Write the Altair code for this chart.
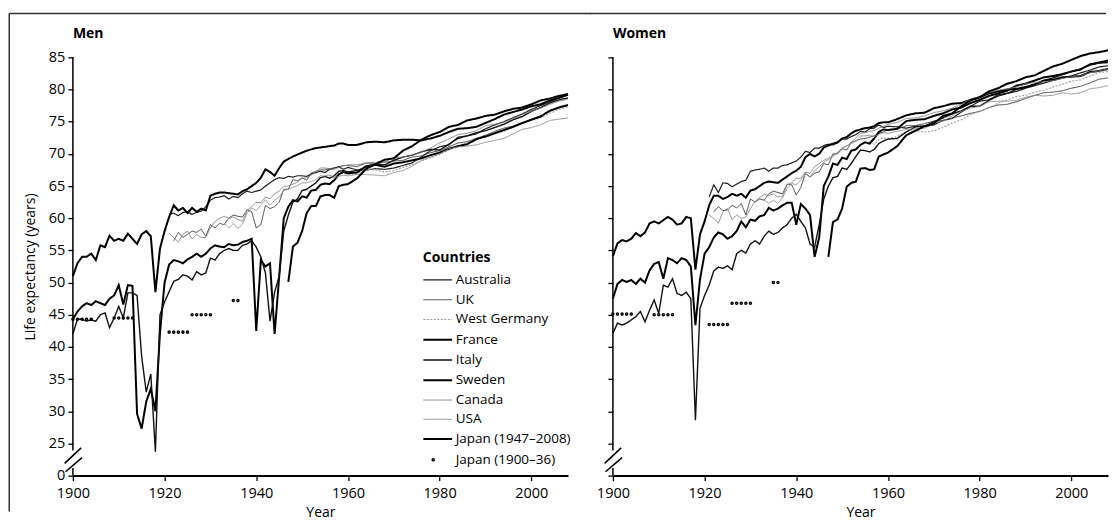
import altair as alt
import pandas as pd

# ---------------- categories & styles ----------------
COUNTRIES = ["Australia", "UK", "West Germany", "France", "Italy", "Sweden",
             "Canada", "USA", "Japan (1947–2008)", "Japan (1900–36)"]
LINE_COLORS = ["#1e1e1e", "#303030", "#9a9a9a", "#000000", "#111111", "#000000",
               "#7c7c7c", "#8a8a8a", "#000000", "#000000"]
LINE_WIDTHS = [1.2, 0.9, 1.1, 2.0, 1.4, 2.0, 0.9, 0.9, 2.0, 2.1]
LINE_DASHES = [[1, 0], [1, 0], [2, 1.5], [1, 0], [1, 0], [1, 0], [1, 0], [1, 0], [1, 0], [1, 0]]
LINE_PATH = "M-1.1,0L2.1,0"
DOT_PATH = "M-0.08,0A0.08,0.08,0,1,1,0.08,0A0.08,0.08,0,1,1,-0.08,0Z"
LEGEND_SHAPES = [LINE_PATH, LINE_PATH, LINE_PATH, LINE_PATH, LINE_PATH,
                 LINE_PATH, LINE_PATH, LINE_PATH, LINE_PATH, DOT_PATH]

X_TICKS = [1900, 1920, 1940, 1960, 1980, 2000]
Y_TICKS = [20, 25, 30, 35, 40, 45, 50, 55, 60, 65, 70, 75, 80, 85]  # 20 is shown as "0" (broken axis)

# years: annual 1900-1960, every second year 1962-2008
YEARS_ANNUAL = list(range(1900, 1961))
YEARS_BIENNIAL = list(range(1962, 2009, 2))
ALL_YEARS = YEARS_ANNUAL + YEARS_BIENNIAL

# ---------------- MEN ----------------
M_SWE = [51.0, 53.0, 54.0, 54.0, 54.5, 53.5, 55.8, 55.5, 57.3, 56.5,
         56.8, 56.5, 57.6, 56.8, 56.0, 57.5, 58.0, 57.2, 48.5, 55.3,
         58.0, 60.2, 62.0, 61.2, 61.6, 60.8, 61.6, 61.0, 61.5, 61.2,
         63.5, 63.8, 64.0, 64.0, 63.9, 63.8, 63.7, 64.2, 64.5, 65.0,
         65.5, 66.3, 67.6, 67.2, 66.6, 67.8, 68.8, 69.2, 69.6, 69.9,
         70.2, 70.5, 70.7, 70.9, 71.0, 71.1, 71.2, 71.3, 71.6, 71.6, 71.4,
         71.4, 71.8, 71.9, 71.8, 72.1, 72.2, 72.2, 72.1, 72.4, 72.8, 73.4, 73.9,
         74.0, 74.2, 74.8, 75.4, 76.1, 76.5, 76.9, 77.4, 77.7, 78.3, 78.7, 79.2]
M_FRA = [44.3, 45.5, 46.3, 46.8, 46.5, 47.1, 46.8, 46.5, 47.5, 48.0,
         49.6, 46.6, 49.6, 49.5, 29.6, 27.3, 31.5, 33.5, 30.0, 42.2,
         50.0, 52.8, 53.5, 53.3, 53.0, 53.6, 54.0, 54.5, 54.0, 54.5,
         55.3, 55.8, 55.6, 55.5, 56.0, 55.8, 55.9, 56.3, 56.5, 56.8,
         42.5, 53.5, 52.5, 53.0, 42.0, 50.9, 60.0, 61.8, 62.8, 62.6,
         63.4, 63.2, 64.3, 64.4, 65.2, 65.4, 65.3, 65.9, 66.8, 67.2, 67.0,
         67.1, 68.1, 68.3, 68.0, 68.5, 68.7, 69.0, 69.3, 69.8, 70.2, 70.8, 71.2,
         71.5, 72.3, 72.7, 73.2, 73.7, 74.2, 74.8, 75.3, 75.8, 76.7, 77.2, 77.6]
M_ITA = [42.0, 44.3, 44.3, 44.0, 44.2, 44.0, 45.0, 45.3, 43.0, 44.5,
         46.3, 44.5, 48.4, 48.4, 48.0, 38.5, 33.0, 35.8, 23.7, 45.0,
         47.0, 48.6, 50.2, 50.5, 51.2, 51.0, 50.4, 51.7, 51.2, 51.5,
         53.8, 53.5, 54.5, 55.0, 55.3, 55.0, 55.0, 55.8, 56.0, 56.5,
         55.5, 54.0, 51.5, 44.0, 48.5, 51.0, 58.0, 60.5, 62.5, 63.0,
         64.3, 64.5, 65.0, 65.5, 66.3, 66.5, 66.2, 66.6, 67.3, 67.4, 67.2,
         67.4, 68.0, 68.4, 68.3, 69.0, 69.5, 69.8, 70.3, 70.7, 70.6, 71.5, 72.4,
         72.8, 73.3, 73.6, 74.1, 74.6, 75.3, 75.8, 76.6, 77.2, 77.9, 78.4, 78.7]
M_AUS = [60.6, 60.8, 60.4, 60.9, 61.0, 60.6, 60.9, 61.1, 61.8,
         62.8, 63.2, 63.3, 63.5, 63.0, 63.4, 63.2, 63.8, 64.2, 64.0,
         64.2, 64.4, 65.0, 65.5, 66.0, 66.3, 66.2, 66.5, 66.4, 66.6,
         66.6, 66.5, 66.9, 67.1, 67.3, 67.1, 67.6, 67.8, 68.0, 67.6, 67.9,
         67.5, 67.5, 67.7, 67.6, 67.8, 68.2, 68.6, 69.5, 70.5, 71.1, 71.4, 72.6,
         72.8, 73.1, 73.9, 74.5, 75.0, 75.6, 76.2, 76.9, 77.5, 78.1, 78.7, 79.2]
M_GBR = [56.5, 57.8, 57.0, 57.5, 58.0, 57.8, 58.3, 57.2,
         59.0, 58.5, 59.2, 59.0, 60.0, 60.5, 60.3, 60.2, 61.3, 61.0,
         58.5, 59.0, 62.0, 61.5, 61.8, 62.5, 64.5, 64.5, 66.0, 65.8,
         66.3, 65.9, 67.0, 67.3, 67.5, 67.5, 67.7, 67.8, 68.0, 68.2, 68.2,
         68.0, 68.6, 68.5, 68.7, 68.9, 69.0, 69.5, 69.7, 70.2, 70.5, 71.1, 71.7,
         71.9, 72.4, 72.9, 73.5, 74.0, 74.3, 74.8, 75.4, 75.9, 76.6, 77.2, 77.6]
M_CAN = [57.6, 57.0, 56.3, 57.5, 58.0, 56.8, 57.5, 57.0, 57.0,
         58.5, 59.5, 60.0, 60.3, 60.0, 60.2, 59.8, 59.5, 61.2, 61.8,
         62.5, 62.4, 63.3, 63.0, 63.8, 64.2, 65.0, 65.0, 65.3, 65.6,
         66.2, 66.3, 66.7, 67.2, 67.8, 67.8, 67.7, 67.6, 67.9, 68.1, 68.3,
         68.3, 68.6, 68.7, 68.8, 69.4, 69.5, 69.8, 70.3, 70.9, 71.7, 72.3, 73.0,
         73.2, 73.6, 74.4, 74.6, 74.9, 75.5, 76.1, 76.6, 77.1, 77.7, 78.2, 78.5]
M_USA = [59.2, 58.5, 59.2, 58.4, 59.1, 60.8, 61.6,
         61.2, 62.0, 62.9, 62.0, 62.8, 63.3, 64.3, 64.5, 64.8, 65.1,
         65.5, 65.5, 65.7, 66.0, 66.6, 66.6, 66.7, 66.3, 66.5, 66.7, 66.6,
         66.8, 66.8, 66.7, 66.6, 67.1, 67.4, 68.1, 69.0, 69.5, 70.0, 70.8, 71.1,
         71.2, 71.4, 71.8, 72.1, 72.4, 73.1, 73.8, 74.1, 74.5, 75.2, 75.4, 75.6]
M_DEW = [66.7, 66.3, 66.9, 67.0, 66.8,
         66.9, 67.6, 67.5, 67.2, 67.4, 67.9, 68.3, 68.9, 69.4, 69.9, 70.6, 71.3,
         71.8, 72.4, 72.6, 73.2, 73.5, 74.1, 74.7, 75.2, 75.6, 76.3, 76.9, 77.3]
M_JPN = [50.1, 55.6, 56.2,
         58.0, 60.8, 61.9, 61.9, 63.4, 63.6, 63.6, 63.2, 65.0, 65.2, 65.3,
         66.2, 67.7, 68.4, 69.1, 69.3, 70.5, 71.2, 72.2, 72.9, 73.4, 74.2, 74.5,
         75.2, 75.5, 75.9, 76.1, 76.6, 77.0, 77.2, 77.7, 78.3, 78.6, 79.0, 79.3]

# ---------------- WOMEN ----------------
W_SWE = [54.1, 56.1, 56.6, 56.4, 56.8, 57.7, 57.2, 57.8, 59.2, 59.5,
         59.2, 59.7, 60.2, 59.8, 59.0, 59.2, 60.2, 60.0, 52.0, 57.5,
         59.5, 62.0, 63.5, 63.5, 63.0, 63.3, 63.8, 63.5, 63.8, 63.2,
         64.3, 64.5, 65.0, 65.5, 65.7, 65.6, 65.5, 66.0, 66.5, 67.0,
         67.4, 68.0, 69.5, 70.0, 69.6, 70.0, 71.0, 71.3, 71.6, 71.8,
         72.4, 72.6, 73.2, 73.6, 73.8, 74.0, 74.1, 74.3, 74.8, 74.9, 74.9,
         75.4, 76.0, 76.3, 76.4, 77.1, 77.4, 77.8, 77.9, 78.4, 78.8, 79.4, 79.7,
         80.0, 80.1, 80.4, 80.8, 81.4, 81.5, 81.9, 82.0, 82.1, 82.7, 82.9, 83.2]
W_FRA = [47.5, 49.8, 50.4, 50.1, 50.4, 49.8, 50.6, 50.0, 51.9, 52.9,
         53.2, 50.6, 53.8, 53.5, 53.0, 53.8, 53.5, 52.5, 43.4, 50.5,
         54.5, 55.5, 57.0, 57.8, 57.5, 56.8, 57.2, 58.0, 59.5, 58.6,
         59.8, 59.6, 60.3, 60.5, 61.6, 61.2, 61.5, 62.0, 62.4, 62.4,
         59.0, 62.2, 61.5, 60.5, 54.0, 57.0, 65.0, 66.5, 68.5, 68.3,
         69.4, 69.2, 70.5, 70.7, 71.4, 71.8, 71.6, 72.4, 73.4, 73.8, 73.7,
         73.9, 75.1, 75.3, 75.4, 75.9, 76.3, 76.9, 77.2, 77.9, 78.4, 79.0, 79.4,
         79.8, 80.6, 80.9, 81.4, 81.9, 82.1, 82.4, 82.8, 83.1, 83.9, 84.2, 84.5]
W_ITA = [42.1, 43.7, 43.4, 43.7, 44.2, 44.7, 45.5, 43.9, 45.7, 47.3,
         45.2, 49.6, 49.3, 50.6, 48.3, 48.0, 48.5, 47.5, 28.6, 46.0,
         48.0, 49.6, 51.8, 52.4, 52.2, 52.6, 52.0, 54.5, 55.0, 54.6,
         56.0, 56.5, 56.0, 57.2, 58.0, 57.5, 57.8, 58.5, 59.0, 60.0,
         60.6, 59.5, 58.5, 56.0, 55.5, 59.0, 63.0, 65.0, 66.3, 66.5,
         67.8, 67.6, 68.5, 69.6, 70.6, 70.5, 70.3, 70.7, 71.6, 72.0, 72.3,
         72.4, 73.4, 74.2, 74.3, 75.0, 75.6, 76.2, 76.7, 77.4, 77.4, 78.3, 79.0,
         79.4, 80.0, 80.3, 80.8, 81.4, 81.8, 82.3, 82.8, 83.2, 83.8, 84.1, 84.2]
W_AUS = [63.3, 65.2, 64.0, 65.5, 65.4, 64.9, 65.3, 65.7, 65.9,
         67.3, 67.5, 67.6, 67.8, 67.3, 67.8, 67.8, 68.2, 68.3, 68.6,
         68.9, 69.5, 70.4, 70.2, 70.9, 70.9, 71.3, 71.5, 71.4, 71.7,
         72.3, 72.3, 72.7, 73.0, 73.5, 73.4, 73.9, 74.0, 74.5, 74.1, 74.3,
         74.2, 74.0, 74.3, 74.3, 74.5, 75.2, 75.5, 76.5, 77.4, 78.2, 78.4, 79.2,
         79.4, 79.7, 80.2, 80.6, 81.0, 81.4, 81.8, 82.1, 82.6, 83.0, 83.5, 83.7]
W_GBR = [61.0, 61.8, 61.2, 61.3, 62.0, 61.6, 62.3, 60.5,
         63.0, 62.5, 63.0, 62.8, 63.8, 64.2, 64.0, 63.8, 65.3, 65.2,
         63.6, 64.8, 67.0, 66.4, 67.0, 67.2, 68.5, 68.3, 70.0, 70.0,
         70.8, 70.6, 71.8, 72.0, 72.3, 72.4, 72.6, 72.8, 73.2, 73.4, 73.8,
         73.8, 74.4, 74.4, 74.7, 75.1, 75.2, 75.6, 75.9, 76.3, 76.6, 77.2, 77.6,
         77.7, 78.1, 78.6, 79.1, 79.5, 79.6, 79.8, 80.2, 80.5, 81.0, 81.6, 81.8]
W_CAN = [60.5, 60.0, 59.2, 61.0, 61.5, 59.8, 60.5, 60.0, 60.2,
         61.5, 62.6, 63.2, 63.7, 63.5, 63.8, 63.3, 63.4, 65.2, 65.5,
         66.2, 66.2, 67.2, 67.0, 68.0, 68.5, 69.0, 69.3, 69.8, 70.2,
         70.8, 71.2, 71.8, 72.5, 73.2, 73.3, 73.5, 73.6, 74.0, 74.3, 74.6,
         74.9, 75.5, 75.6, 75.9, 76.4, 76.7, 77.1, 77.7, 78.5, 78.9, 79.5, 79.9,
         80.1, 80.4, 80.9, 81.1, 81.2, 81.4, 81.7, 82.0, 82.1, 82.6, 82.9, 83.2]
W_USA = [62.8, 62.3, 62.8, 62.3, 63.2, 64.6, 65.4,
         65.2, 65.9, 66.9, 66.4, 67.4, 68.0, 68.7, 69.1, 69.6, 70.2,
         71.0, 71.3, 71.6, 72.0, 72.8, 72.8, 72.9, 72.7, 73.0, 73.3, 73.2,
         73.5, 73.8, 73.9, 74.0, 74.7, 75.1, 75.9, 76.6, 77.1, 77.4, 78.1, 78.2,
         78.2, 78.3, 78.8, 79.1, 79.0, 79.1, 79.5, 79.3, 79.5, 80.1, 80.3, 80.6]
W_DEW = [71.9, 71.5, 72.2, 72.5, 72.4,
         72.7, 73.5, 73.6, 73.4, 73.6, 74.1, 74.8, 75.3, 76.1, 76.6, 77.1, 77.9,
         78.4, 78.9, 79.1, 79.6, 79.9, 80.4, 80.8, 81.3, 81.5, 82.1, 82.6, 82.8]
W_JPN = [54.0, 59.4, 59.8,
         61.5, 64.9, 65.5, 65.7, 67.7, 67.8, 67.5, 67.6, 69.6, 69.9, 70.2,
         71.2, 72.9, 73.6, 74.3, 74.7, 75.9, 76.3, 77.4, 78.3, 78.8, 79.7, 80.2,
         80.9, 81.3, 81.9, 82.2, 82.9, 83.6, 84.0, 84.6, 85.2, 85.6, 85.8, 86.1]

# Japan 1900-36 (period life tables, one dot per year of each table)
JPN_OLD_YEARS = [1900, 1901, 1902, 1903, 1904, 1909, 1910, 1911, 1912, 1913,
                 1921, 1922, 1923, 1924, 1925, 1926, 1927, 1928, 1929, 1930, 1935, 1936]
M_JPN_OLD = [44.3, 44.3, 44.3, 44.3, 44.3, 44.5, 44.5, 44.5, 44.5, 44.5,
             42.3, 42.3, 42.3, 42.3, 42.3, 45.0, 45.0, 45.0, 45.0, 45.0, 47.2, 47.2]
W_JPN_OLD = [45.1, 45.1, 45.1, 45.1, 45.1, 45.0, 45.0, 45.0, 45.0, 45.0,
             43.5, 43.5, 43.5, 43.5, 43.5, 46.8, 46.8, 46.8, 46.8, 46.8, 50.0, 50.0]

MEN_SERIES = [("Australia", 1921, M_AUS), ("UK", 1922, M_GBR), ("West Germany", 1956, M_DEW),
              ("France", 1900, M_FRA), ("Italy", 1900, M_ITA), ("Sweden", 1900, M_SWE),
              ("Canada", 1921, M_CAN), ("USA", 1933, M_USA), ("Japan (1947–2008)", 1947, M_JPN)]
WOMEN_SERIES = [("Australia", 1921, W_AUS), ("UK", 1922, W_GBR), ("West Germany", 1956, W_DEW),
                ("France", 1900, W_FRA), ("Italy", 1900, W_ITA), ("Sweden", 1900, W_SWE),
                ("Canada", 1921, W_CAN), ("USA", 1933, W_USA), ("Japan (1947–2008)", 1947, W_JPN)]

# axis decorations (broken y axis)
AXIS_SEG_Y = [20.0, 23.9]
AXIS_SEG_Y2 = [21.2, 85.0]
BREAK_X = [1898.2, 1898.4]
BREAK_Y = [21.9, 20.6]
BREAK_X2 = [1901.8, 1902.0]
BREAK_Y2 = [24.3, 22.8]

# ---------------- build tables ----------------
line_rows = []
for sex, table in (("Men", MEN_SERIES), ("Women", WOMEN_SERIES)):
    for country, start, values in table:
        yrs = [y for y in ALL_YEARS if y >= start]
        if len(yrs) != len(values):
            print("length mismatch", sex, country, len(yrs), len(values))
        for y, v in zip(yrs, values):
            line_rows.append({"sex": sex, "country": country, "year": y, "value": v})
lines_df = pd.DataFrame(line_rows)

pt_rows = []
for sex, vals in (("Men", M_JPN_OLD), ("Women", W_JPN_OLD)):
    for y, v in zip(JPN_OLD_YEARS, vals):
        pt_rows.append({"sex": sex, "country": "Japan (1900–36)", "year": y, "value": v})
pts_df = pd.DataFrame(pt_rows)

axis_df = pd.DataFrame({"year": [1900, 1900], "value": AXIS_SEG_Y, "value2": AXIS_SEG_Y2})
break_df = pd.DataFrame({"year": BREAK_X, "value": BREAK_Y, "year2": BREAK_X2, "value2": BREAK_Y2})
one_row = pd.DataFrame({"k": [0]})

FONT = "Open Sans"
W, H = 496, 419


def panel(sex, title_text, left):
    xs = alt.Scale(domain=[1900, 2008], nice=False, zero=False)
    ys = alt.Scale(domain=[20, 85], nice=False, zero=False)
    xaxis = alt.Axis(values=X_TICKS, format="d", title="Year", labelFlush=False, labelOverlap=False,
                     tickSize=5, tickWidth=1.3, labelPadding=6, domainWidth=2,
                     titleY=37, titleBaseline="middle", grid=False)
    if left:
        yaxis = alt.Axis(values=Y_TICKS, labelExpr="datum.value == 20 ? '0' : datum.label",
                         title="Life expectancy (years)", domain=False, tickSize=5, tickWidth=1.3,
                         labelPadding=3, titleX=-42, titleY=H / 2, titleBaseline="middle", grid=False)
    else:
        yaxis = alt.Axis(values=Y_TICKS, labels=False, title=None, domain=False, tickSize=5,
                         tickWidth=1.3, grid=False)
    X = alt.X("year:Q", scale=xs, axis=xaxis)
    Y = alt.Y("value:Q", scale=ys, axis=yaxis)

    if left:
        leg = alt.Legend(orient="none", legendX=350.5, legendY=194, title="Countries",
                         titleFontSize=14, titleFontWeight="bold", titleFont=FONT, titleColor="black",
                         titlePadding=5, labelFont=FONT, labelFontSize=13.5, labelColor="black",
                         symbolSize=324, labelOffset=12, rowPadding=3.3)
    else:
        leg = None

    color_enc = alt.Color("country:N", scale=alt.Scale(domain=COUNTRIES, range=LINE_COLORS),
                          legend=leg, title="Countries")
    width_enc = alt.StrokeWidth("country:N",
                                scale=alt.Scale(type="ordinal", domain=COUNTRIES, range=LINE_WIDTHS),
                                legend=leg, title="Countries")

    lines = alt.Chart(lines_df[lines_df.sex == sex]).mark_line().encode(
        x=X, y=Y,
        color=color_enc,
        strokeWidth=width_enc,
        strokeDash=alt.StrokeDash("country:N", scale=alt.Scale(domain=COUNTRIES, range=LINE_DASHES),
                                  legend=leg, title="Countries"),
        order="year:Q",
    )
    pts = alt.Chart(pts_df[pts_df.sex == sex]).mark_point(filled=False, size=324, opacity=1).encode(
        x=X, y=Y,
        color=color_enc,
        shape=alt.Shape("country:N", scale=alt.Scale(domain=COUNTRIES, range=LEGEND_SHAPES),
                        legend=leg, title="Countries"),
        strokeWidth=width_enc,
    )
    axis_rules = alt.Chart(axis_df).mark_rule(color="black", strokeWidth=1.5).encode(
        x=X, y=Y, y2="value2:Q")
    breaks = alt.Chart(break_df).mark_rule(color="black", strokeWidth=1.6).encode(
        x=X, y=Y, x2="year2:Q", y2="value2:Q")

    layers = [lines, pts, axis_rules, breaks]
    if left:
        layers.append(alt.Chart(one_row).mark_rule(color="#333333", strokeWidth=1.5).encode(
            x=alt.value(-63.75), x2=alt.value(W + 23), y=alt.value(-44)))
        layers.append(alt.Chart(one_row).mark_rule(color="#333333", strokeWidth=1.5).encode(
            x=alt.value(-63.75), y=alt.value(-44), y2=alt.value(455)))
    else:
        layers.append(alt.Chart(one_row).mark_rule(color="#333333", strokeWidth=1.5).encode(
            x=alt.value(-23), x2=alt.value(W - 2), y=alt.value(-44)))

    return alt.layer(*layers).properties(
        width=W, height=H,
        title=alt.TitleParams(title_text, anchor="start", frame="group", offset=-39.5,
                              baseline="alphabetic", fontSize=14, fontWeight="bold",
                              font=FONT, color="black"),
    )


men = panel("Men", "Men", True)
women = panel("Women", "Women", False)

chart = alt.hconcat(men, women, spacing=45, bounds="flush").resolve_legend(
    color="independent", shape="independent", strokeWidth="independent", strokeDash="independent"
).properties(
    padding={"left": 0, "top": 4, "right": 0, "bottom": 0},
    background="white",
).configure_view(stroke=None).configure_axis(
    labelFont=FONT, titleFont=FONT, labelFontSize=14.5, titleFontSize=14,
    labelColor="black", titleColor="black", tickColor="black", domainColor="black",
    titleFontWeight="normal",
)

chart.save("out.html", embed_options={"renderer": "svg", "actions": False})
